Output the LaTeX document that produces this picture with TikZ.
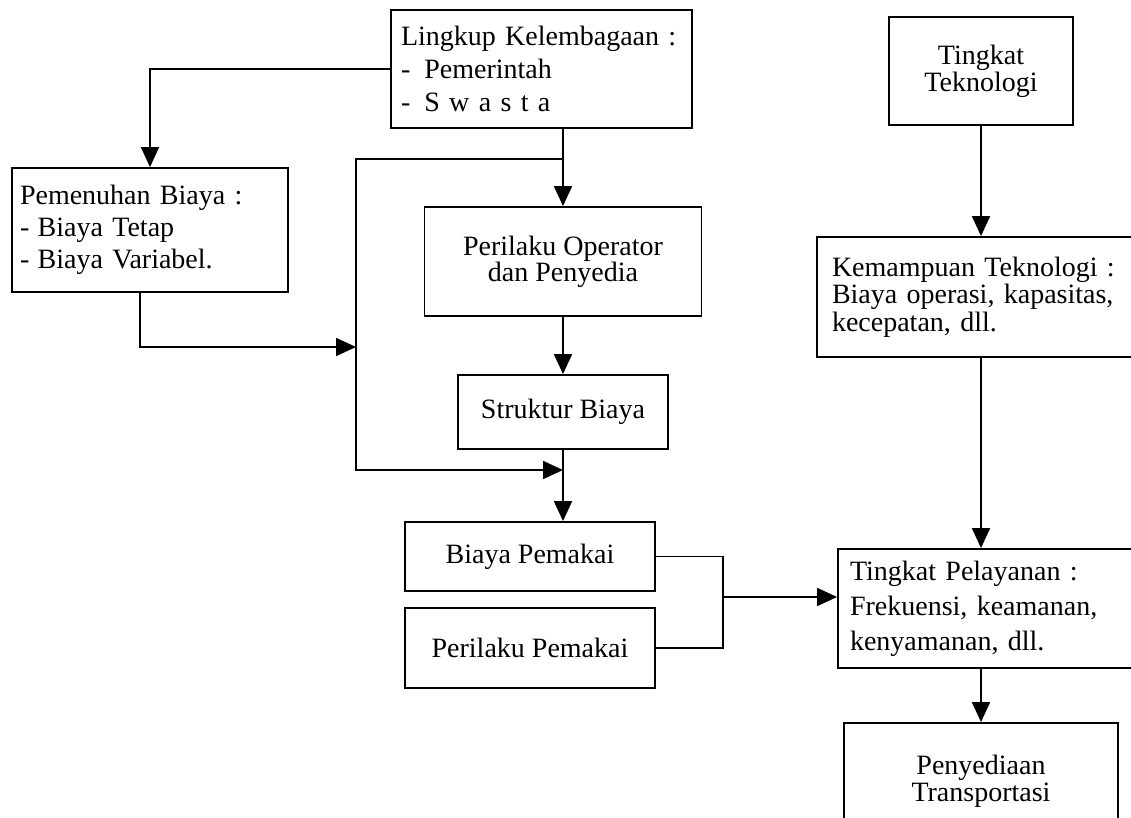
\documentclass[tikz,border=0pt]{standalone}
\usepackage{fontspec}
\setmainfont{Liberation Serif}
\usetikzlibrary{positioning, arrows.meta}

\begin{document}
\begin{tikzpicture}[x=0.5pt, y=-0.5pt, line width=0.9pt,
  >={Triangle[length=10pt,width=9pt]},
  every node/.style={inner sep=0pt},
  kotak/.style={draw, line width=0.9pt, align=center, font=\fontsize{14pt}{13.5pt}\selectfont},
  daftar/.style={kotak, align=left}]
  \clip (0,0) rectangle (1131,818);

  \node[daftar, minimum width=150.5pt, minimum height=59pt, inner xsep=5pt, text width=140.5pt,
        font=\fontsize{14pt}{16.5pt}\selectfont] (lingkup) at (541.5,69)
        {Lingkup Kelembagaan :\\-\hspace{0.5em}Pemerintah\\-\hspace{0.5em}S w a s t a};
  \node[kotak, minimum width=92pt, minimum height=54pt] (teknologi) at (981,71) {Tingkat\\Teknologi};
  \node[daftar, minimum width=138pt, minimum height=62pt, inner xsep=4pt, text width=130pt,
        font=\fontsize{14pt}{16pt}\selectfont] (pemenuhan) at (150,230)
        {Pemenuhan Biaya :\\-\hspace{0.3em}Biaya Tetap\\-\hspace{0.3em}Biaya Variabel.};
  \node[kotak, minimum width=138.5pt, minimum height=54.5pt, font=\fontsize{14pt}{13pt}\selectfont]
        (operator) at (563,261.5) {Perilaku Operator\\dan Penyedia};
  \node[daftar, minimum width=164pt, minimum height=60pt, inner xsep=7.5pt, text width=149pt,
        font=\fontsize{14pt}{12.5pt}\selectfont] (kemampuan) at (981,297)
        {Kemampuan Teknologi :\\Biaya operasi, kapasitas,\\kecepatan, dll.};
  \node[kotak, minimum width=105pt, minimum height=37pt] (struktur) at (563,412) {Struktur Biaya};
  \node[kotak, minimum width=125pt, minimum height=34.5pt] (biayapemakai) at (530,556.5) {Biaya Pemakai};
  \node[kotak, minimum width=125pt, minimum height=40pt] (perilakupemakai) at (530,648) {Perilaku Pemakai};
  \node[daftar, minimum width=153.5pt, minimum height=59.5pt, inner xsep=6pt, text width=141.5pt,
        font=\fontsize{14pt}{17.5pt}\selectfont] (pelayanan) at (991.5,608.5)
        {Tingkat Pelayanan :\\Frekuensi, keamanan,\\kenyamanan, dll.};
  \node[kotak, minimum width=137pt, minimum height=58.5pt] (penyediaan) at (981,781.5) {Penyediaan\\Transportasi};

  % jalur kiri (umpan balik)
  \coordinate (busatas) at (356,159);
  \coordinate (busbawah) at (356,470);
  \coordinate (busmasuk) at (356,347);
  \coordinate (gabung) at (723,597);

  \draw[->] (lingkup.west) -| (pemenuhan.north);
  \draw[->] (lingkup.south -| operator.north) -- (operator.north);
  \draw[->] (busatas -| operator.north) -- (busatas) -- (busbawah) -- (busbawah -| struktur.south);
  \draw[->] ([xshift=-5pt]pemenuhan.south) |- (busmasuk);
  \draw[->] (operator.south) -- (struktur.north);
  \draw[->] (struktur.south) -- (struktur.south |- biayapemakai.north);
  \draw (biayapemakai.east) -| (gabung) |- (perilakupemakai.east);
  \draw[->] (gabung) -- (gabung -| pelayanan.west);
  \draw[->] (teknologi.south) -- (teknologi.south |- kemampuan.north);
  \draw[->] (kemampuan.south) -- (kemampuan.south |- pelayanan.north);
  \draw[->] (pelayanan.south -| penyediaan.north) -- (penyediaan.north);
\end{tikzpicture}
\end{document}
